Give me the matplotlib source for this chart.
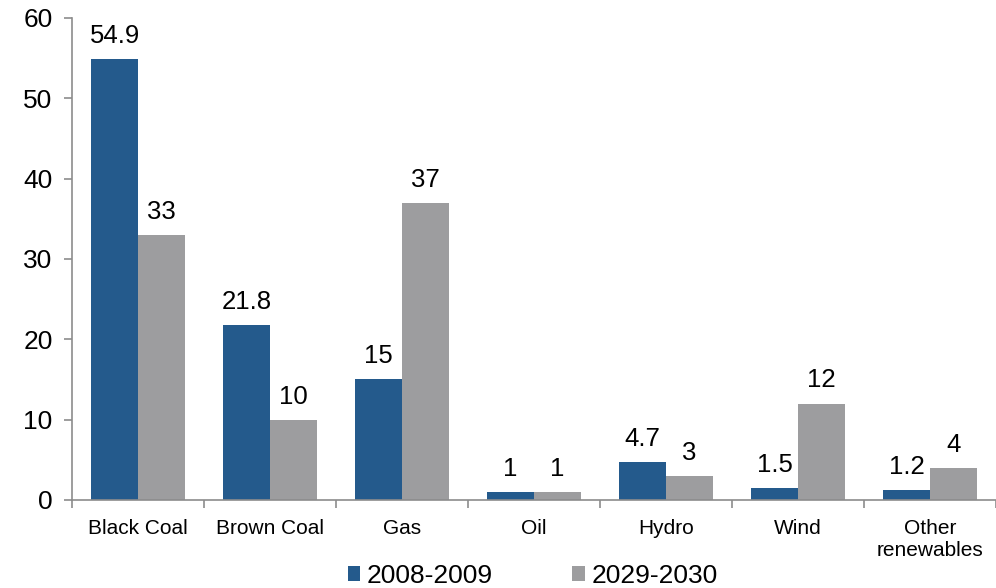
import matplotlib
matplotlib.use("Agg")
import matplotlib.pyplot as plt
import numpy as np

plt.rcParams['font.family'] = ['Liberation Sans', 'DejaVu Sans']

categories = ["Black Coal", "Brown Coal", "Gas", "Oil", "Hydro", "Wind", "Other\nrenewables"]
series_names = ["2008-2009", "2029-2030"]
values_2008 = [54.9, 21.8, 15, 1, 4.7, 1.5, 1.2]
values_2029 = [33, 10, 37, 1, 3, 12, 4]
value_labels_2008 = ["54.9", "21.8", "15", "1", "4.7", "1.5", "1.2"]
value_labels_2029 = ["33", "10", "37", "1", "3", "12", "4"]
y_ticks = [0, 10, 20, 30, 40, 50, 60]

blue = "#245A8C"
gray = "#9D9D9F"
axis_gray = "#8C8C8C"

fig = plt.figure(figsize=(9.96, 5.88), dpi=100)
ax = fig.add_axes([0.0723, 0.1497, 0.9277, 0.8197])

x = np.arange(len(categories))
w = 0.355
b1 = ax.bar(x - w / 2, values_2008, width=w, color=blue, label=series_names[0])
b2 = ax.bar(x + w / 2, values_2029, width=w, color=gray, label=series_names[1])

for bars, labels in ((b1, value_labels_2008), (b2, value_labels_2029)):
    for rect, txt in zip(bars, labels):
        ax.annotate(txt, (rect.get_x() + rect.get_width() / 2, rect.get_height()),
                    xytext=(0, 8), textcoords="offset points",
                    ha="center", va="bottom", fontsize=18.5, color="black")

ax.set_xlim(-0.5, len(categories) - 0.5)
ax.set_ylim(0, 60)
ax.set_yticks(y_ticks)
ax.tick_params(axis="y", labelsize=19, length=6, width=1.2, color=axis_gray, pad=8)

ax.set_xticks(x)
ax.set_xticklabels(categories, fontsize=15)
ax.tick_params(axis="x", which="major", length=0, pad=14)
ax.set_xticks(np.arange(len(categories) + 1) - 0.5, minor=True)
ax.tick_params(axis="x", which="minor", length=6, width=1.2, color=axis_gray)

for side in ("top", "right"):
    ax.spines[side].set_visible(False)
for side in ("left", "bottom"):
    ax.spines[side].set_color(axis_gray)
    ax.spines[side].set_linewidth(1.2)

leg = fig.legend(handles=[b1, b2], labels=series_names, loc="lower center",
                 bbox_to_anchor=(0.535, -0.04), ncol=2, frameon=False, fontsize=19,
                 handlelength=0.48, handleheight=0.48, handletextpad=0.25, columnspacing=3.0)

fig.savefig("out.png", dpi=100)
